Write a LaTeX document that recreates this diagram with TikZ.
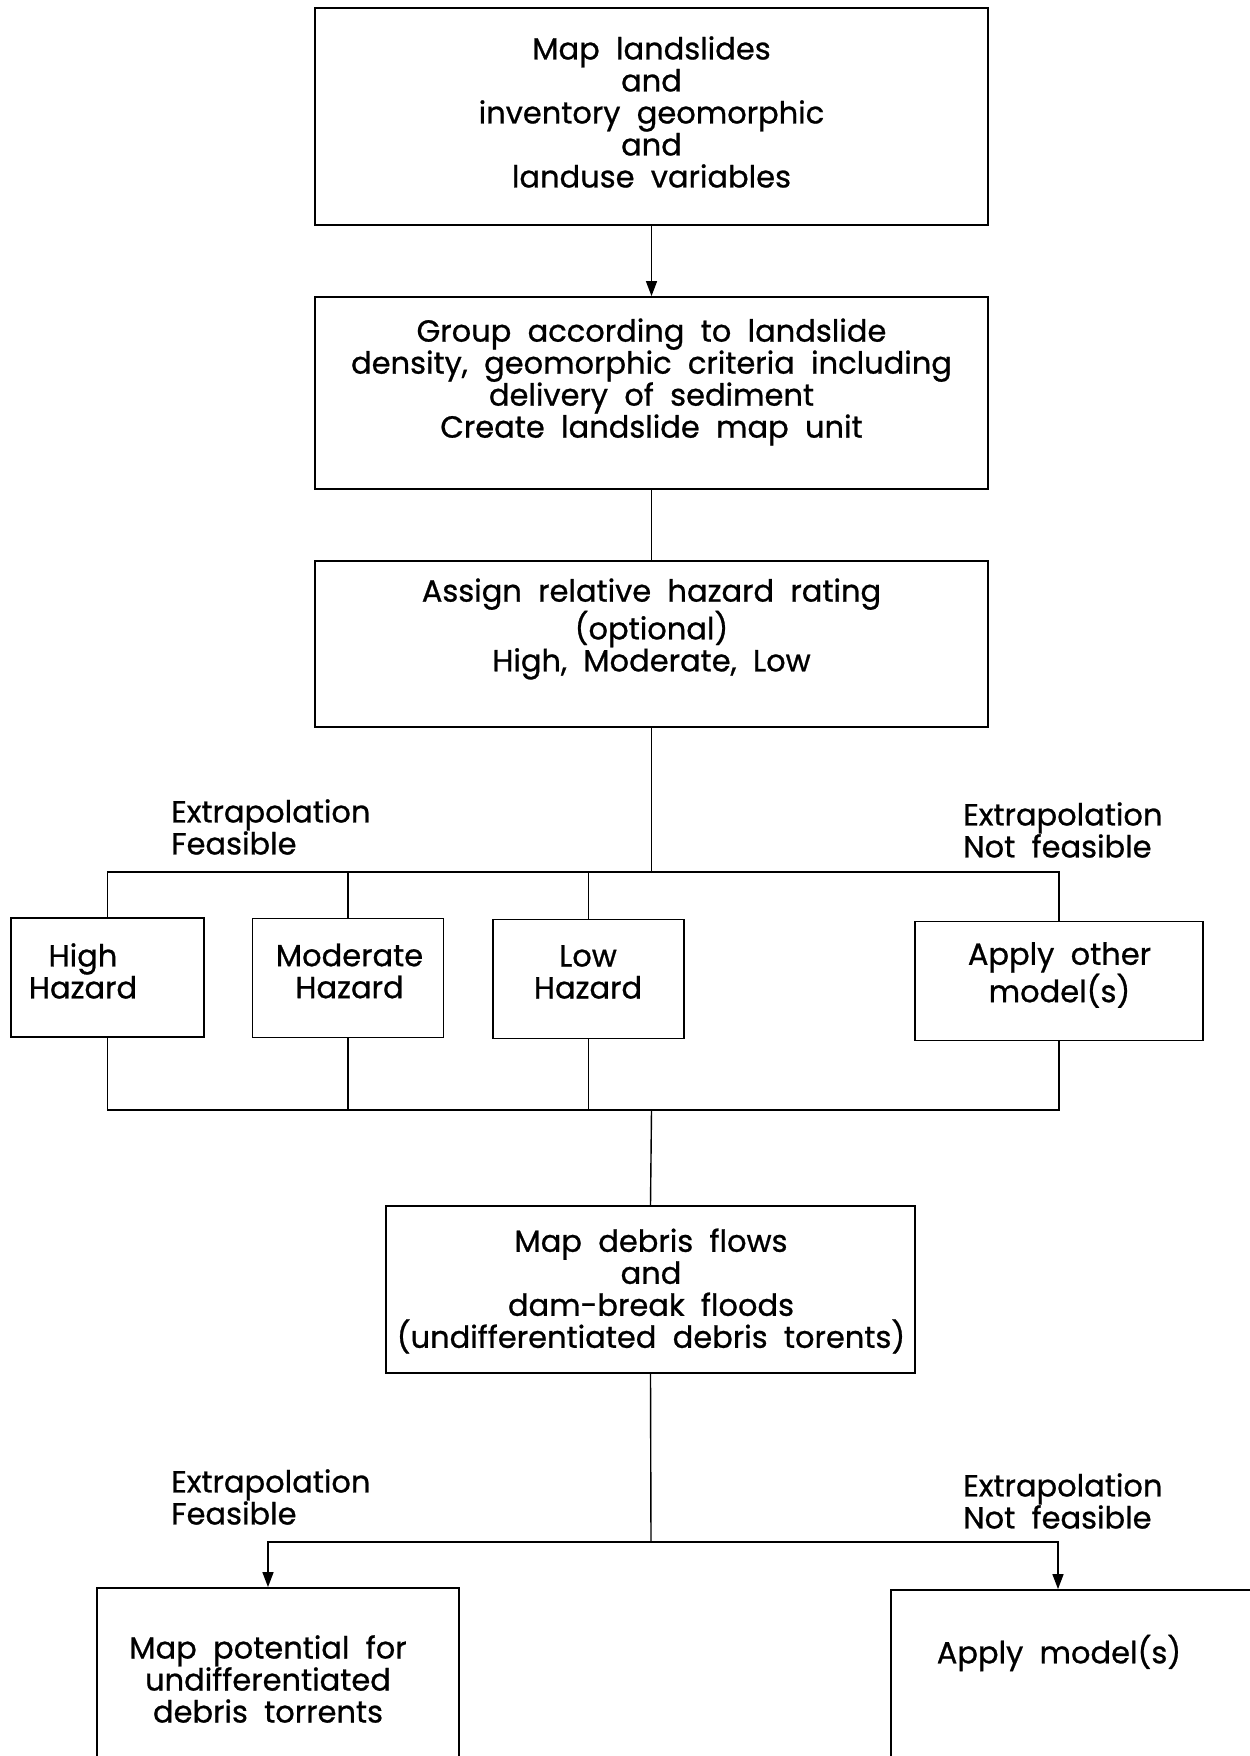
\documentclass[tikz,border=0pt]{standalone}
\usepackage{fontspec}
\setmainfont{Poppins}[FakeBold=0.8]
\usetikzlibrary{arrows.meta}
\begin{document}
\begin{tikzpicture}[x=1pt,y=-1pt,
  box/.style={draw,line width=1.8pt,inner sep=0pt},
  conn/.style={line width=1.4pt},
  arr/.style={conn,-{Triangle[length=15pt,width=11pt]}},
  txt/.style={align=center,inner sep=0pt,font=\fontsize{30.5}{32}\selectfont},
]
\useasboundingbox[fill=white] (0,0) rectangle (1250,1756);
% boxes
\node[box,minimum width=673pt,minimum height=217pt] (b1) at (651.5,116.5) {};
\node[box,minimum width=673pt,minimum height=192pt] (b2) at (651.5,393) {};
\node[box,minimum width=673pt,minimum height=166pt] (b3) at (651.5,644) {};
\node[box,minimum width=193pt,minimum height=119pt] (hi) at (107.5,977.5) {};
\node[box,minimum width=191pt,minimum height=119pt] (mo) at (348,978) {};
\node[box,minimum width=191pt,minimum height=119pt] (lo) at (588.5,979) {};
\node[box,minimum width=288pt,minimum height=119pt] (ap) at (1059,981) {};
\node[box,minimum width=529pt,minimum height=167pt] (db) at (650.5,1289.5) {};
\node[box,minimum width=362pt,minimum height=200pt] (mp) at (278,1688) {};
\node[box,minimum width=370pt,minimum height=200pt] (am) at (1076,1690) {};
% texts
\node[txt] (t1) at (651.5,112) {Map\ \ landslides\\and\\inventory\ \ geomorphic\\and\\landuse\ \ variables};
\node[txt] (t2) at (651.5,382) {Group\ \ according\ \ to\ \ landslide\\density,\ \ geomorphic\ \ criteria\ \ including\\delivery\ \ of\ \ sediment\\Create\ \ landslide\ \ map\ \ unit};
\node[txt] (t3) at (651.5,629) {Assign\ \ relative\ \ hazard\ \ rating\\(optional)\\High,\ \ Moderate,\ \ Low};
\node[txt] (thi) at (83,971) {High\\Hazard};
\node[txt] (tmo) at (349.5,971) {Moderate\\Hazard};
\node[txt] (tlo) at (588,972) {Low\\Hazard};
\node[txt] (tap) at (1059.5,975) {Apply\ \ other\\model(s)};
\node[txt] (tdb) at (651,1291) {Map\ \ debris\ \ flows\\and\\dam-break\ \ floods\\(undifferentiated\ \ debris\ \ torents)};
\node[txt] (tmp) at (268,1679) {Map\ \ potential\ \ for\\undifferentiated\\debris\ \ torrents};
\node[txt] (tam) at (1059,1653) {Apply\ \ model(s)};
\node[txt,align=left,anchor=west] (l1) at (171,827) {Extrapolation\\Feasible};
\node[txt,align=left,anchor=west] (l2) at (963,830) {Extrapolation\\Not\ \ feasible};
\node[txt,align=left,anchor=west] (l3) at (171,1497) {Extrapolation\\Feasible};
\node[txt,align=left,anchor=west] (l4) at (963,1501) {Extrapolation\\Not\ \ feasible};
% bus coordinates
\coordinate (bus1) at (651.5,872);
\coordinate (bus2) at (651.5,1110);
\coordinate (bus3) at (651,1542);
\coordinate (mpin) at ([xshift=-10pt]mp.north);
\coordinate (amin) at ([xshift=-18pt]am.north);
% connectors
\draw[arr] (b1.south) -- (b2.north);
\draw[conn] (b2.south) -- (b3.north);
\draw[conn] (b3.south) -- (bus1);
\draw[conn] (hi.north) -- (hi.north |- bus1) -- (ap.north |- bus1) -- (ap.north);
\draw[conn] (mo.north) -- (mo.north |- bus1);
\draw[conn] (lo.north) -- (lo.north |- bus1);
\draw[conn] (hi.south) -- (hi.south |- bus2) -- (ap.south |- bus2) -- (ap.south);
\draw[conn] (mo.south) -- (mo.south |- bus2);
\draw[conn] (lo.south) -- (lo.south |- bus2);
\draw[conn] (bus2) -- (db.north);
\draw[conn] (db.south) -- (bus3);
\draw[arr] (bus3) -- (mpin |- bus3) -- (mpin);
\draw[arr] (bus3) -- (amin |- bus3) -- (amin);
\end{tikzpicture}
\end{document}
